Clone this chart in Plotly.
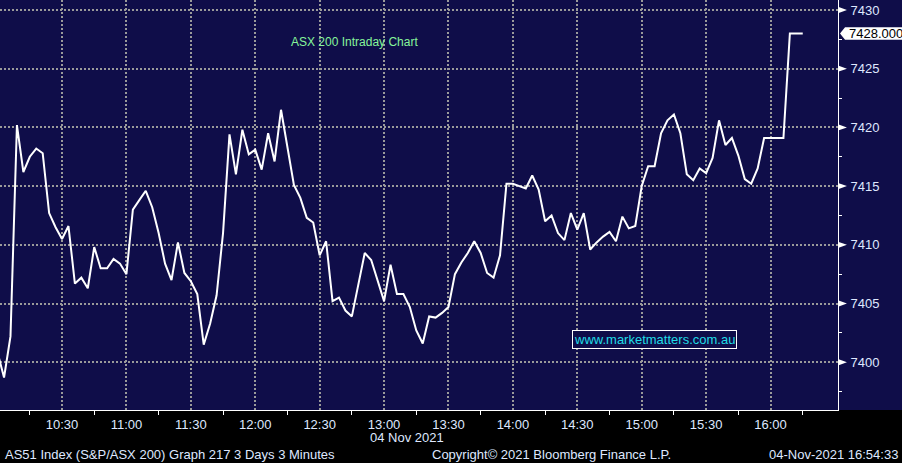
import plotly.graph_objects as go
import pandas as pd

# ---- data (3-minute bars, 04 Nov 2021) ----
day = "2021-11-04"
start_time = "2021-11-04 10:00:00"
bar_minutes = 3
values = [
    7400.8, 7398.7, 7402.2, 7420.2, 7416.2, 7417.5, 7418.2, 7417.8, 7412.7, 7411.5,
    7410.5, 7411.6, 7406.7, 7407.2, 7406.3, 7409.8, 7408.0, 7408.0, 7408.8, 7408.4,
    7407.5, 7413.0, 7413.8, 7414.6, 7413.2, 7411.0, 7408.4, 7407.0, 7410.2, 7407.6,
    7406.9, 7405.8, 7401.5, 7403.3, 7405.7, 7411.0, 7419.4, 7416.0, 7419.8, 7417.7,
    7418.1, 7416.4, 7419.5, 7417.1, 7421.5, 7418.4, 7415.1, 7414.0, 7412.3, 7411.9,
    7409.1, 7410.3, 7405.2, 7405.5, 7404.4, 7403.9, 7406.6, 7409.3, 7408.7, 7407.0,
    7405.2, 7408.3, 7405.8, 7405.8, 7404.7, 7402.7, 7401.6, 7403.9, 7403.8, 7404.2,
    7404.7, 7407.5, 7408.5, 7409.3, 7410.3, 7409.3, 7407.6, 7407.2, 7409.1, 7415.2,
    7415.2, 7415.0, 7414.8, 7415.9, 7414.7, 7412.0, 7412.5, 7411.0, 7410.4, 7412.7,
    7411.3, 7412.7, 7409.6, 7410.2, 7410.7, 7411.1, 7410.3, 7412.4, 7411.4, 7411.6,
    7415.0, 7416.7, 7416.7, 7419.5, 7420.6, 7421.1, 7419.5, 7416.0, 7415.5, 7416.5,
    7416.1, 7417.4, 7420.6, 7418.5, 7419.1, 7417.6, 7415.6, 7415.2, 7416.5, 7419.1,
    7419.1, 7419.1, 7419.1, 7428.0, 7428.0, 7428.0,
]
times = pd.date_range(start_time, periods=len(values), freq=f"{bar_minutes}min")

x_tick_labels = ["10:30", "11:00", "11:30", "12:00", "12:30", "13:00", "13:30",
                 "14:00", "14:30", "15:00", "15:30", "16:00"]
x_minor_labels = ["10:15", "10:45", "11:15", "11:45", "12:15", "12:45", "13:15",
                  "13:45", "14:15", "14:45", "15:15", "15:45", "16:15"]
y_ticks = [7400, 7405, 7410, 7415, 7420, 7425, 7430]
x_range = ["2021-11-04 10:01:07", "2021-11-04 16:31:25"]
y_range = [7395.93, 7430.85]
last_value = 7428.0
last_label = "7428.000"
title_text = "ASX 200 Intraday Chart"
watermark = "www.marketmatters.com.au"
date_label = "04 Nov 2021"
footer_left = "AS51 Index (S&P/ASX 200) Graph 217 3 Days 3 Minutes"
footer_mid = "Copyright\u00a9 2021 Bloomberg Finance L.P."
footer_right = "04-Nov-2021 16:54:33"

NAVY = "#0f0d49"
GRID = "#9a9a9a"
TXT = "#dfe8ff"
FONT = "Liberation Sans, Arial, sans-serif"

fig = go.Figure()
fig.add_trace(go.Scatter(x=times, y=values, mode="lines",
                         line=dict(color="white", width=2), hoverinfo="skip",
                         showlegend=False))

shapes = [
    # navy strip right of plot
    dict(type="rect", xref="paper", yref="paper", x0=1, x1=1.1, y0=0, y1=1,
         fillcolor=NAVY, line=dict(width=0), layer="below"),
]
# triangles at major y ticks
for v in y_ticks:
    h = 0.27
    shapes.append(dict(type="path", xref="paper", yref="y",
                       path=f"M 1,{v-h} L 1.0107,{v} L 1,{v+h} Z",
                       fillcolor="white", line=dict(width=0)))
# last value tag
h2 = 0.53
shapes.append(dict(type="path", xref="paper", yref="y",
                   path=(f"M 1.0024,{last_value} L 1.0084,{last_value+h2} "
                         f"L 1.08,{last_value+h2} L 1.08,{last_value-h2} "
                         f"L 1.0084,{last_value-h2} Z"),
                   fillcolor="white", line=dict(width=0)))

annotations = [
    dict(text=last_label, xref="paper", yref="y", x=1.0105, y=last_value,
         xanchor="left", yanchor="middle", showarrow=False,
         font=dict(family=FONT, size=13, color="black")),
    dict(text=title_text, xref="paper", yref="paper", x=0.4236, y=0.8976,
         xanchor="center", yanchor="middle", showarrow=False,
         font=dict(family=FONT, size=12, color="#86f59a")),
    dict(text=watermark, xref="paper", yref="paper", x=0.7805, y=0.173,
         xanchor="center", yanchor="middle", showarrow=False,
         font=dict(family=FONT, size=13, color="#20dce6"),
         bgcolor=NAVY, bordercolor="white", borderwidth=1, borderpad=1),
    dict(text=date_label, xref="paper", yref="paper", x=407/838, y=(410-437)/410,
         xanchor="center", yanchor="middle", showarrow=False,
         font=dict(family=FONT, size=13, color=TXT)),
    dict(text=footer_left, xref="paper", yref="paper", x=3/838, y=(410-454)/410,
         xanchor="left", yanchor="middle", showarrow=False,
         font=dict(family=FONT, size=13, color=TXT)),
    dict(text=footer_mid, xref="paper", yref="paper", x=430/838, y=(410-454)/410,
         xanchor="left", yanchor="middle", showarrow=False,
         font=dict(family=FONT, size=13, color=TXT)),
    dict(text=footer_right, xref="paper", yref="paper", x=900/838, y=(410-454)/410,
         xanchor="right", yanchor="middle", showarrow=False,
         font=dict(family=FONT, size=13, color=TXT)),
]

fig.update_layout(
    width=902, height=463,
    margin=dict(l=0, r=64, t=0, b=53, pad=0),
    paper_bgcolor="black", plot_bgcolor=NAVY,
    shapes=shapes, annotations=annotations,
    showlegend=False,
    xaxis=dict(
        type="date", range=x_range,
        tickmode="array",
        tickvals=[f"{day} {t}:00" for t in x_tick_labels],
        ticktext=x_tick_labels,
        ticks="", ticklabelstandoff=2,
        tickfont=dict(family=FONT, size=13, color=TXT),
        showgrid=True, gridcolor=GRID, gridwidth=2, griddash="2px,2px",
        showline=True, linecolor="white", linewidth=1,
        minor=dict(tickmode="array",
                   tickvals=[f"{day} {t}:00" for t in x_minor_labels],
                   ticks="outside", ticklen=4,
                   tickcolor="white", tickwidth=1, showgrid=False),
        zeroline=False, fixedrange=True,
    ),
    yaxis=dict(
        side="right", range=y_range,
        tickmode="array", tickvals=y_ticks, ticktext=[str(v) for v in y_ticks],
        ticks="", ticklabelstandoff=9,
        tickfont=dict(family=FONT, size=13, color=TXT),
        showgrid=True, gridcolor=GRID, gridwidth=2, griddash="2px,2px",
        showline=True, linecolor="white", linewidth=1,
        minor=dict(dtick=2.5, tick0=7400, ticks="outside", ticklen=3,
                   tickcolor="white", tickwidth=1, showgrid=False),
        zeroline=False, fixedrange=True,
    ),
)

fig.write_html(
    "out.html",
    config={"displayModeBar": False},
    post_script="document.body.style.margin='0';document.body.style.overflow='hidden';",
)
